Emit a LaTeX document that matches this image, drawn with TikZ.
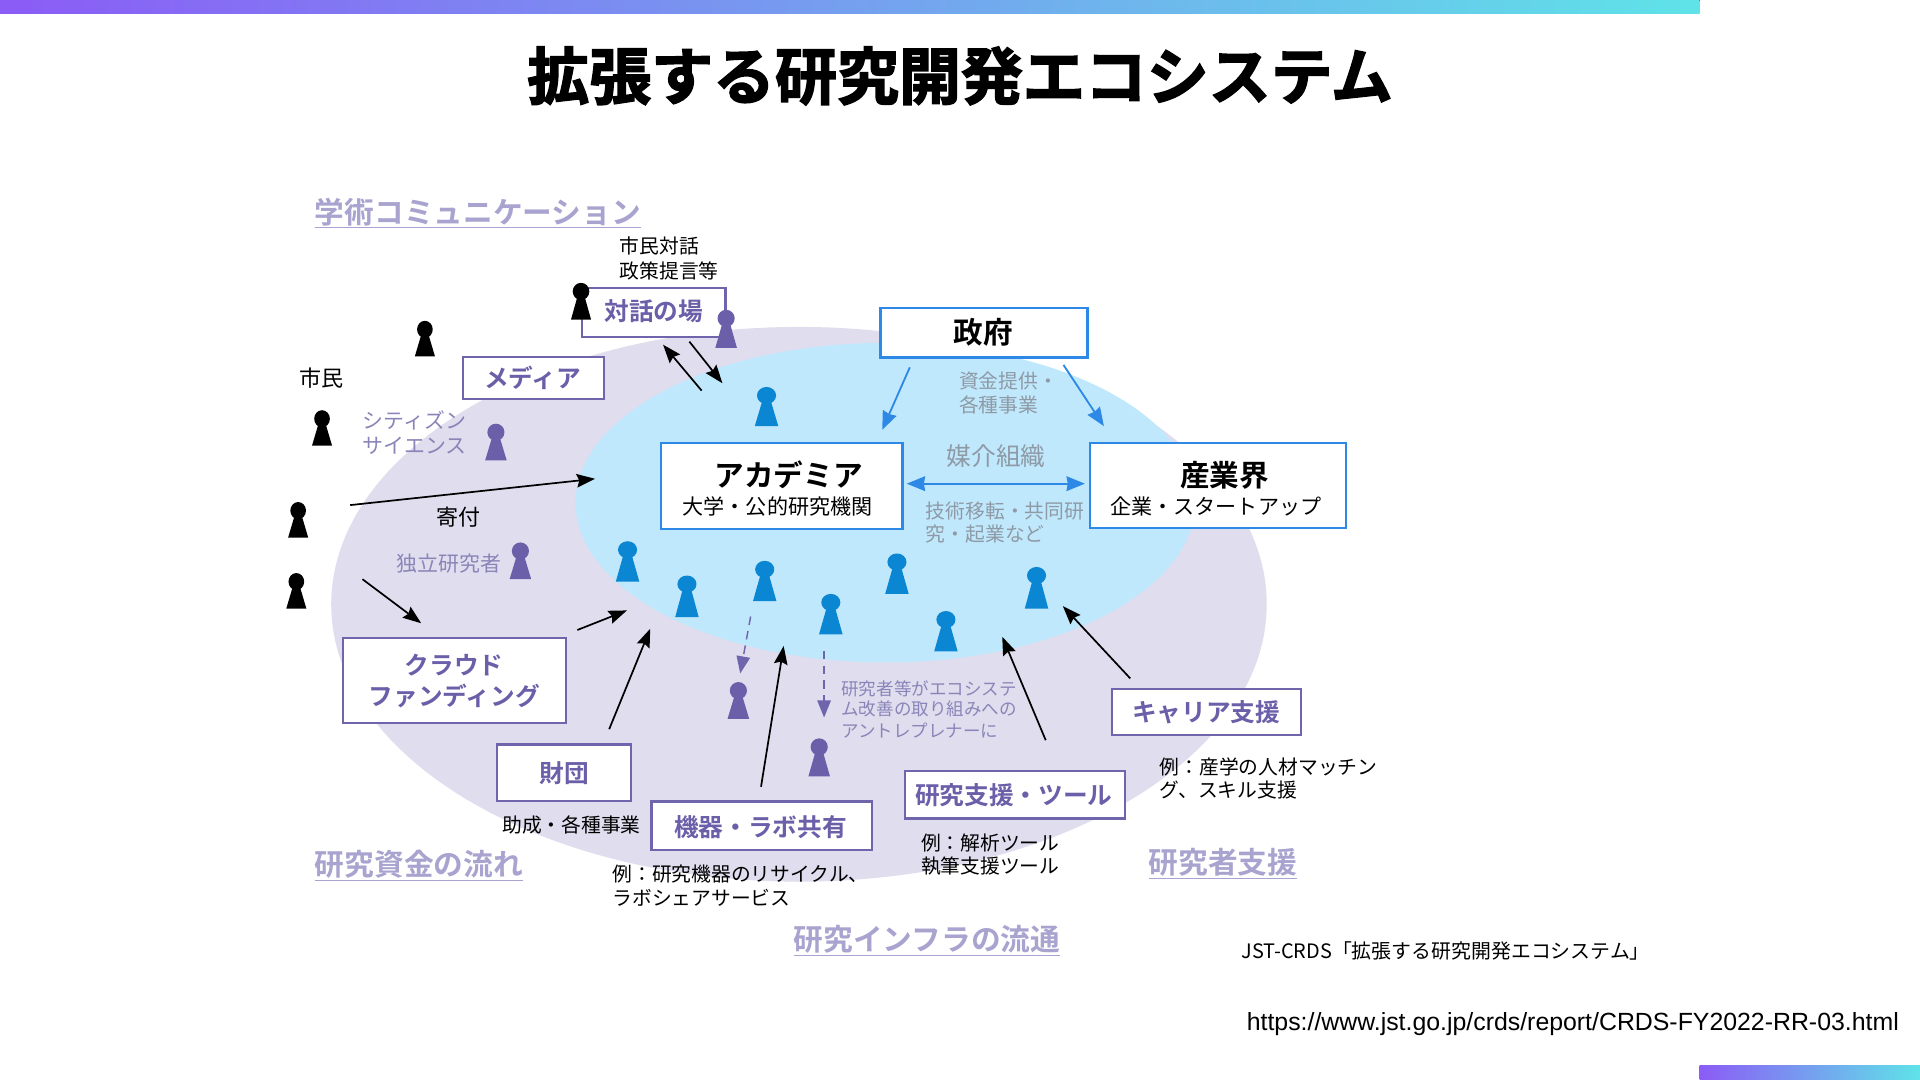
\documentclass[tikz,border=0pt]{standalone}
\usepackage{fontspec}
\usetikzlibrary{arrows.meta}
\setmainfont{Noto Sans CJK JP}
\newfontfamily\urlfont{Liberation Sans}
\newfontfamily\titlefont[FakeBold=2.4]{Noto Sans CJK JP Bold}
\newfontfamily\heavyfont{Noto Sans CJK JP Bold}
\definecolor{lav}{HTML}{E0DDEE}
\definecolor{sky}{HTML}{C0E8FC}
\definecolor{pbox}{HTML}{6F65AD}
\definecolor{ptxt}{HTML}{6A5FA8}
\definecolor{pale}{HTML}{A8A3CF}
\definecolor{bbox}{HTML}{2E89E6}
\definecolor{bfig}{HTML}{0A86D2}
\definecolor{gtxt}{HTML}{8E9AA6}
\definecolor{ltxt}{HTML}{8A85B8}
\definecolor{gl}{HTML}{8B5CF6}
\definecolor{gr}{HTML}{5FE3E8}
\newcommand{\fsz}[1]{\fontsize{#1}{#1}\selectfont}
\newcommand{\figr}[6]{% x, top, bottom, colour, head rx, base half
  \fill[#4] (#1-#6,#3) -- (#1+#6,#3) -- (#1+#6*0.35,#2+11) -- (#1-#6*0.35,#2+11) -- cycle;
  \fill[#4] (#1,#2+7) ellipse [x radius=#5, y radius=7];
}
\tikzset{
  x=1pt,y=-1pt,
  pboxst/.style={draw=pbox,line width=1.8pt,fill=white,minimum width=0pt},
  bboxst/.style={draw=bbox,line width=2pt,fill=white},
  boxtxt/.style={text=ptxt,font=\heavyfont\fsz{20.15},inner sep=0pt,align=center,yshift=-0.5pt},
  hd/.style={text=black,font=\heavyfont\fsz{24.2},inner sep=0pt,yshift=-0.5pt},
  sub/.style={text=black,font=\fsz{17.2},inner sep=0pt,yshift=-0.5pt},
  note/.style={text=black,font=\fsz{16.15},inner sep=0pt,anchor=west,yshift=-0.5pt},
  gnote/.style={text=gtxt,font=\fsz{16.15},inner sep=0pt,anchor=west,yshift=-0.3pt},
  lnote/.style={text=ltxt,font=\fsz{17.1},inner sep=0pt,anchor=west,yshift=-0.3pt},
  flow/.style={text=pale,font=\heavyfont\fsz{24.25},inner sep=0pt,anchor=west,yshift=-2pt},
  karr/.style={draw=black,line width=1.4pt,-{Stealth[length=15pt,width=11pt,inset=2pt]}},
  barr/.style={draw=bbox,line width=1.5pt,-{Stealth[length=15pt,width=12pt,inset=1pt]}},
  darr/.style={draw=pbox,line width=1.2pt,dash pattern=on 7pt off 5pt,-{Stealth[length=14pt,width=11pt,inset=0pt]}},
}
\begin{document}
\begin{tikzpicture}
\useasboundingbox (0,0) rectangle (1568,882);
\fill[white] (0,0) rectangle (1568,882);
\fill[left color=gl,right color=gr,draw=none] (0,0) rectangle (1388,11);
\fill[left color=gl,right color=gr,draw=none] (1388,870) rectangle (1568,882);
% ellipses
\fill[lav] (652.5,493.5) ellipse [x radius=382, y radius=226.5];
\fill[sky] (723,410.5) ellipse [x radius=253, y radius=130.5];
% title
\node[inner sep=0pt,text=black,font=\titlefont\fsz{50.6}] (title) at (784,62) {拡張する研究開発エコシステム};
% boxes
\draw[pboxst] (475.5,235.5) rectangle (592.5,275);
\node[boxtxt] (taiwa) at (534,254) {対話の場};
\draw[pboxst] (378,291.5) rectangle (493,326);
\node[boxtxt] (media) at (435,308) {メディア};
\draw[bboxst] (540,362) rectangle (737,432);
\node[hd] (acad) at (644,387) {アカデミア};
\node[sub] (acadsub) at (635,413) {大学・公的研究機関};
\draw[bboxst] (719,251.5) rectangle (888,292);
\node[hd] (gov) at (803,271) {政府};
\draw[bboxst] (890,362) rectangle (1099,431);
\node[hd] (ind) at (1000,388) {産業界};
\node[sub] (indsub) at (993,413) {企業・スタートアップ};
\draw[pboxst] (280,521) rectangle (462,590.5);
\node[boxtxt,font=\heavyfont\fontsize{20.15}{25}\selectfont] (crowd) at (371,555.5) {クラウド\\ファンディング};
\draw[pboxst] (406,608) rectangle (515.5,654);
\node[boxtxt] (zaidan) at (461,631) {財団};
\draw[pboxst] (532,654.5) rectangle (712,694);
\node[boxtxt] (kiki) at (621,675) {機器・ラボ共有};
\draw[pboxst] (739,629.5) rectangle (919,668.5);
\node[boxtxt] (tool) at (828,649) {研究支援・ツール};
\draw[pboxst] (908,563) rectangle (1062.5,600.5);
\node[boxtxt] (career) at (985,581) {キャリア支援};
% people: black
\figr{347}{262}{291}{black}{6.4}{8.2}
\figr{263}{335}{364}{black}{6.4}{8.2}
\figr{243.5}{410}{439}{black}{6.4}{8.2}
\figr{242}{468}{497}{black}{6.4}{8.2}
\figr{474.5}{231}{261}{black}{6.8}{8.2}
% people: purple
\figr{593}{253}{284}{ptxt}{7}{8.8}
\figr{405}{346}{376}{ptxt}{7}{8.8}
\figr{425}{443}{473}{ptxt}{7}{8.8}
\figr{603}{557}{587}{ptxt}{7}{8.8}
\figr{669}{603}{634}{ptxt}{7}{8.8}
% people: blue
\figr{626}{316}{348}{bfig}{7.8}{9.6}
\figr{512.5}{442}{475}{bfig}{7.8}{9.6}
\figr{561}{470}{504}{bfig}{7.8}{9.6}
\figr{624.5}{458}{491}{bfig}{7.8}{9.6}
\figr{678.5}{485}{518}{bfig}{7.8}{9.6}
\figr{732.5}{452}{485}{bfig}{7.8}{9.6}
\figr{772.5}{499}{532}{bfig}{7.8}{9.6}
\figr{846.5}{463}{497}{bfig}{7.8}{9.6}
% arrow end points
\coordinate (a1s) at (573,319); \coordinate (a1e) at (541.5,281.5);
\coordinate (a2s) at (563,279); \coordinate (a2e) at (590,313);
\coordinate (a3s) at (286,412.5); \coordinate (a3e) at (486,391);
\coordinate (a4s) at (296,473); \coordinate (a4e) at (344,509);
\coordinate (a5s) at (471.5,514.5); \coordinate (a5e) at (512,498.5);
\coordinate (a6s) at (497.5,595.5); \coordinate (a6e) at (531,513.5);
\coordinate (a7s) at (621.5,642.5); \coordinate (a7e) at (640,527.5);
\coordinate (a8s) at (854,604.5); \coordinate (a8e) at (818.5,520);
\coordinate (a9s) at (923,554); \coordinate (a9e) at (868,495);
\coordinate (b1s) at (743,300); \coordinate (b1e) at (720.5,351);
\coordinate (b2s) at (868.5,298); \coordinate (b2e) at (901.5,348);
\coordinate (b3s) at (740.5,395); \coordinate (b3e) at (886,395);
\coordinate (d1s) at (613,503.5); \coordinate (d1e) at (604.5,550);
\coordinate (d2s) at (673,531.5); \coordinate (d2e) at (673,586);
\foreach \n in {1,...,9} {\draw[karr] (a\n s) -- (a\n e);}
\draw[barr] (b1s) -- (b1e);
\draw[barr] (b2s) -- (b2e);
\draw[barr,{Stealth[length=15pt,width=12pt,inset=1pt]}-{Stealth[length=15pt,width=12pt,inset=1pt]}] (b3s) -- (b3e);
\draw[darr] (d1s) -- (d1e);
\draw[darr] (d2s) -- (d2e);
% labels
\node[flow] (f1) at (257,172) {\underline{学術コミュニケーション}};
\node[flow] (f2) at (257,705) {\underline{研究資金の流れ}};
\node[flow] (f3) at (938,703) {\underline{研究者支援}};
\node[flow] (f4) at (648,766) {\underline{研究インフラの流通}};
\node[note] (n1) at (506,200.5) {市民対話};
\node[note] (n2) at (506,221) {政策提言等};
\node[note,font=\fsz{18}] (n3) at (244,308.5) {市民};
\node[lnote] (l1) at (296,343) {シティズン};
\node[lnote] (l2) at (296,364) {サイエンス};
\node[note,font=\fsz{18}] (n4) at (356,422) {寄付};
\node[lnote] (l3) at (324,460) {独立研究者};
\node[gnote] (g1) at (783,311) {資金提供・};
\node[gnote] (g2) at (783,330) {各種事業};
\node[gnote,font=\fsz{20.2}] (g3) at (773,372) {媒介組織};
\node[gnote] (g4) at (756,417) {技術移転・共同研};
\node[gnote] (g5) at (756,436) {究・起業など};
\node[lnote,font=\fsz{14.3}] (l4) at (687,562) {研究者等がエコシステ};
\node[lnote,font=\fsz{14.3}] (l5) at (687,579) {ム改善の取り組みへの};
\node[lnote,font=\fsz{14.3}] (l6) at (687,596) {アントレプレナーに};
\node[note] (n5) at (410,673) {助成・各種事業};
\node[note] (n6) at (500,713) {例：研究機器のリサイクル、};
\node[note] (n7) at (500,733) {ラボシェアサービス};
\node[note] (n8) at (947,626) {例：産学の人材マッチン};
\node[note] (n9) at (947,645) {グ、スキル支援};
\node[note] (n10) at (752,688) {例：解析ツール};
\node[note] (n11) at (752,707) {執筆支援ツール};
\node[note,font=\fsz{16.25}] (n12) at (1014,776) {JST-CRDS「拡張する研究開発エコシステム」};
\node[note,font=\urlfont\fsz{20.3}] (url) at (1018,835.5) {https://www.jst.go.jp/crds/report/CRDS-FY2022-RR-03.html};
\end{tikzpicture}
\end{document}
